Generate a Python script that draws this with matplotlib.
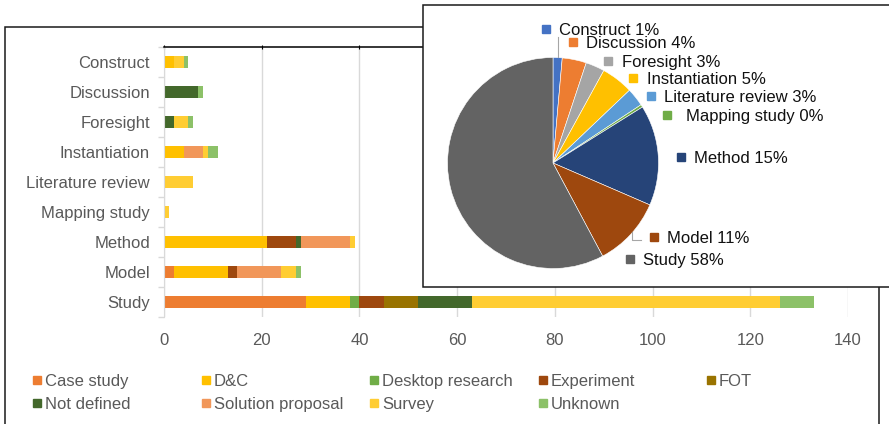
import numpy as np
import matplotlib.pyplot as plt
from matplotlib.patches import Rectangle
from matplotlib.lines import Line2D

plt.rcParams['font.family'] = ['Liberation Sans', 'DejaVu Sans']

# bar chart data (rows top to bottom)
categories = ["Construct", "Discussion", "Foresight", "Instantiation", "Literature review",
              "Mapping study", "Method", "Model", "Study"]
series_names = ["Case study", "D&C", "Desktop research", "Experiment", "FOT",
                "Not defined", "Solution proposal", "Survey", "Unknown"]
case_study = [0, 0, 0, 0, 0, 0, 0, 2, 29]
dc = [2, 0, 0, 4, 0, 0, 21, 11, 9]
desktop_research = [0, 0, 0, 0, 0, 0, 0, 0, 2]
experiment = [0, 0, 0, 0, 0, 0, 6, 2, 5]
fot = [0, 0, 0, 0, 0, 0, 0, 0, 7]
not_defined = [0, 7, 2, 0, 0, 0, 1, 0, 11]
solution_proposal = [0, 0, 0, 4, 0, 0, 10, 9, 0]
survey = [2, 0, 3, 1, 6, 1, 1, 3, 63]
unknown = [1, 1, 1, 2, 0, 0, 0, 1, 7]
series_colors = ["#ED7D31", "#FFC000", "#70AD47", "#9E480E", "#997300",
                 "#43682B", "#F1975A", "#FFCD33", "#8CC168"]
xticks = [0, 20, 40, 60, 80, 100, 120, 140]

# pie data (percent)
pie_names = ["Construct", "Discussion", "Foresight", "Instantiation", "Literature review",
             "Mapping study", "Method", "Model", "Study"]
pie_pct = [1.4, 3.7, 2.9, 4.9, 2.8, 0.4, 15.4, 10.7, 57.8]
pie_colors = ["#4472C4", "#ED7D31", "#A5A5A5", "#FFC000", "#5B9BD5",
              "#70AD47", "#264478", "#9E480E", "#636363"]

W, H = 889, 424
fig = plt.figure(figsize=(W / 100, H / 100), dpi=100)


def fx(px):
    return px / W


def fy(py):
    return 1 - py / H


grey = "#595959"
grid = "#D9D9D9"

# ---- bar chart ----
ax = fig.add_axes([fx(164), fy(317), fx(848) - fx(164), fy(47) - fy(317)])
ax.set_zorder(0)
series = [case_study, dc, desktop_research, experiment, fot,
          not_defined, solution_proposal, survey, unknown]
y = np.arange(len(categories))
left = np.zeros(len(categories))
for name, vals, col in zip(series_names, series, series_colors):
    vals = np.array(vals, dtype=float)
    ax.barh(y, vals, left=left, height=0.41, color=col, label=name, zorder=2)
    left += vals

ax.set_xlim(0, 140)
ax.set_ylim(len(categories) - 0.5, -0.5)
ax.set_xticks(xticks)
ax.set_xticklabels([str(t) for t in xticks])
ax.set_yticks(y)
ax.set_yticklabels(categories)
ax.set_yticks(np.arange(len(categories) + 1) - 0.5, minor=True)
ax.tick_params(axis='y', which='major', length=0, pad=10, labelsize=12, labelcolor=grey)
ax.tick_params(axis='y', which='minor', length=4, color=grid, width=1)
ax.tick_params(axis='x', which='major', length=3, pad=10, labelsize=12, labelcolor=grey,
               direction='inout', bottom=False, top=True, labelbottom=True, labeltop=False,
               color='black')
ax.grid(axis='x', color=grid, linewidth=1, zorder=0)
ax.set_axisbelow(True)
for s in ['right', 'bottom']:
    ax.spines[s].set_visible(False)
ax.spines['left'].set_color(grid)
ax.spines['top'].set_color('black')
ax.spines['top'].set_linewidth(1.1)

# outer frame of bar chart
fig.add_artist(Rectangle((fx(5), -0.1), fx(879) - fx(5), fy(27) + 0.1, transform=fig.transFigure,
                         fill=False, edgecolor='#1a1a1a', linewidth=1.1, zorder=0.5))

# legend laid out in fixed columns, row by row
for i, (name, col) in enumerate(zip(series_names, series_colors)):
    cx = 37 + (i % 5) * 168.5
    cy = 380 + (i // 5) * 23
    fig.add_artist(Line2D([fx(cx)], [fy(cy)], marker='s', markersize=5.2, color=col,
                          linestyle='none', transform=fig.transFigure, zorder=3))
    fig.text(fx(cx + 8), fy(cy), name, fontsize=12, color=grey, va='center_baseline', ha='left')

# ---- pie chart panel ----
fig.add_artist(Rectangle((fx(423), fy(287)), 1.0, fy(5) - fy(287), transform=fig.transFigure,
                         facecolor='white', edgecolor='#1a1a1a', linewidth=1.1, zorder=1))

r = 105.5
cx, cy = 553, 163
pax = fig.add_axes([fx(cx - r), fy(cy + r), 2 * r / W, 2 * r / H])
pax.set_zorder(2)
pax.pie(pie_pct, colors=pie_colors, startangle=90, counterclock=False,
        wedgeprops=dict(edgecolor='white', linewidth=0.4))
pax.set_xlim(-1, 1)
pax.set_ylim(-1, 1)
pax.axis('off')

# label layout: marker x, y and text x (pixels)
lab_mx = [546, 573, 608, 633, 651, 667, 681, 654, 630]
lab_y = [29, 42, 61, 78, 96, 115, 157, 237, 259]
lab_tx = [559, 586, 622, 647, 664, 686, 694, 667, 643]
for name, p, col, mx, ly, tx in zip(pie_names, pie_pct, pie_colors, lab_mx, lab_y, lab_tx):
    fig.add_artist(Line2D([fx(mx)], [fy(ly)], marker='s', markersize=5.2, color=col,
                          linestyle='none', transform=fig.transFigure, zorder=4))
    fig.text(fx(tx), fy(ly), f"{name} {round(p)}%", fontsize=12, color='#111111',
             va='center_baseline', ha='left', zorder=4)

# leader lines
fig.add_artist(Line2D([fx(558), fx(558)], [fy(37), fy(57)], color='#A6A6A6', linewidth=0.8,
                      transform=fig.transFigure, zorder=3))
fig.add_artist(Line2D([fx(632), fx(632), fx(641)], [fy(232), fy(240), fy(240)], color='#A6A6A6',
                      linewidth=0.8, transform=fig.transFigure, zorder=3))

fig.savefig("out.png", dpi=100)
